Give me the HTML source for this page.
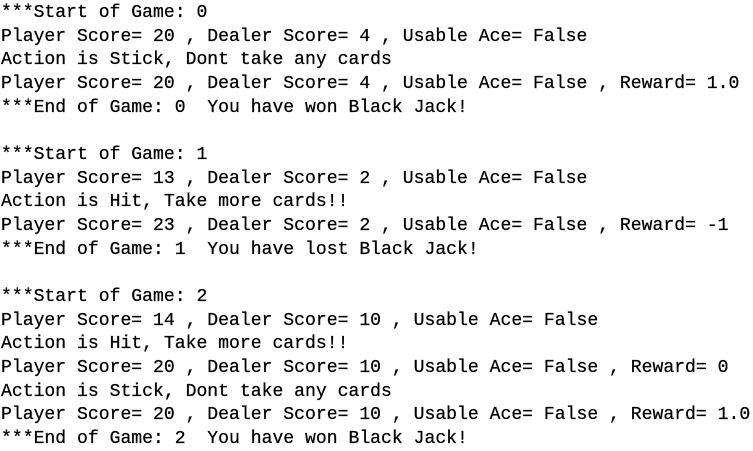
<!DOCTYPE html>
<html><head><meta charset="utf-8"><style>
html,body{margin:0;padding:0;background:#fff;width:753px;height:449px;overflow:hidden}
pre{margin:0;position:absolute;left:1px;top:2px;font-family:"Liberation Mono","DejaVu Sans Mono",monospace;font-size:18.1px;line-height:23.65px;color:#000;-webkit-text-stroke:0.25px #000}
</style></head><body><pre>***Start of Game: 0
Player Score= 20 , Dealer Score= 4 , Usable Ace= False
Action is Stick, Dont take any cards
Player Score= 20 , Dealer Score= 4 , Usable Ace= False , Reward= 1.0
***End of Game: 0  You have won Black Jack!

***Start of Game: 1
Player Score= 13 , Dealer Score= 2 , Usable Ace= False
Action is Hit, Take more cards!!
Player Score= 23 , Dealer Score= 2 , Usable Ace= False , Reward= -1
***End of Game: 1  You have lost Black Jack!

***Start of Game: 2
Player Score= 14 , Dealer Score= 10 , Usable Ace= False
Action is Hit, Take more cards!!
Player Score= 20 , Dealer Score= 10 , Usable Ace= False , Reward= 0
Action is Stick, Dont take any cards
Player Score= 20 , Dealer Score= 10 , Usable Ace= False , Reward= 1.0
***End of Game: 2  You have won Black Jack!</pre></body></html>
